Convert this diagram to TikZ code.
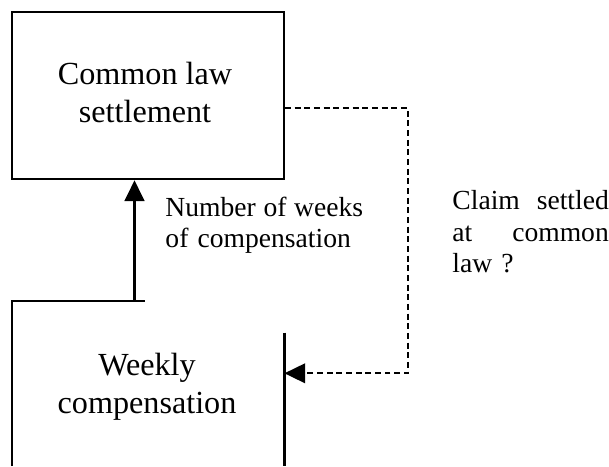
\documentclass[tikz,border=0pt]{standalone}
\usepackage{fontspec}
\setmainfont{Liberation Serif}
\usetikzlibrary{arrows.meta, positioning, calc}

\begin{document}
\begin{tikzpicture}[x=0.435pt, y=0.435pt, >={Triangle[length=9pt,width=8.6pt]},
  box/.style={draw, line width=0.9pt, minimum width=118.3pt, minimum height=72.9pt, inner sep=0pt},
  bigtxt/.style={font=\fontsize{14}{16.4}\selectfont, align=center, inner sep=0pt, anchor=base},
  smalltxt/.style={font=\fontsize{12}{13.5}\selectfont, align=left, inner sep=0pt, anchor=base west},
  flow/.style={line width=0.9pt},
  query/.style={dash pattern=on 2.6pt off 1.6pt, line width=0.7pt}]
  \useasboundingbox (0,0) rectangle (609,466);
  % settlement box
  \node[box] (cls) at (148,370.5) {};
  \node[bigtxt] (clstext) at (145,343.3) {Common law\\settlement};
  % weekly compensation box, cut off at the bottom
  \coordinate (wkbl) at (12,0);
  \coordinate (wktl) at (12,165);
  \coordinate (wktop) at (145,165);
  \coordinate (wkarrow) at (134.5,165);
  \coordinate (wkside) at (284.5,133.3);
  \coordinate (wkbr) at (284.5,0);
  \coordinate (wkin) at (284.5,92.7);
  \draw[flow] (wkbl) -- (wktl) -- (wktop);
  \draw[flow] (wkside) -- (wkbr);
  \node[bigtxt] (wktext) at (147,52.7) {Weekly\\compensation};
  % links
  \draw[flow, ->] (wkarrow) -- (wkarrow |- cls.south);
  \coordinate (qstart) at ($(cls.east)+(0,-12.8)$);
  \coordinate (qturn) at (408,0);
  \draw[query, ->] (qstart) -- (qstart -| qturn) -- (qturn |- wkin) -- (wkin);
  % labels
  \node[smalltxt, text width=86pt] (weeks) at (165,249.3) {Number\hfill of\hfill weeks\\of compensation};
  \node[smalltxt, text width=68pt] (claim) at (452,256) {Claim\hfill settled\\at\hfill common\\law ?};
\end{tikzpicture}
\end{document}
